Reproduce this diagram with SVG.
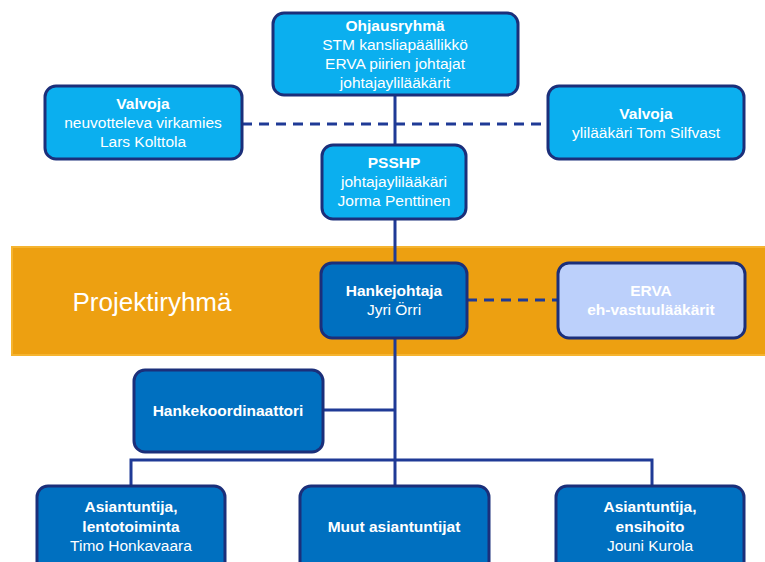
<svg xmlns="http://www.w3.org/2000/svg" width="765" height="562" viewBox="0 0 765 562">
<style>
text{font-family:"Liberation Sans",Arial,sans-serif;font-size:15.5px;fill:#fff;text-anchor:middle}
.b{font-weight:bold}
.lb{fill:#0BAFEF;stroke:#1B2F7A;stroke-width:3}
.db{fill:#0070C0;stroke:#1B2F7A;stroke-width:3}
.pb{fill:#BCD0FB;stroke:#1B2F7A;stroke-width:3}
.ln{stroke:#1F3A96;stroke-width:3;fill:none}
.ds{stroke:#1F3A96;stroke-width:3;fill:none;stroke-dasharray:10 7}
</style>
<rect width="765" height="562" fill="#fff"/>
<rect x="12" y="247" width="760" height="108" fill="#EDA011" stroke="#F5B430" stroke-width="2"/>
<text x="152" y="311" style="font-size:26px">Projektiryhmä</text>
<g id="connectors">
<line class="ds" x1="242" y1="124" x2="547" y2="124"/>
<line class="ds" x1="467" y1="300" x2="558" y2="300"/>
<line class="ln" x1="395" y1="95" x2="395" y2="460"/>
<line class="ln" x1="323" y1="410" x2="395" y2="410"/>
<polyline class="ln" points="131,486 131,460 652,460 652,486"/>
<line class="ln" x1="395" y1="460" x2="395" y2="486"/>
</g>
<g id="ohjausryhma">
<rect class="lb" x="273" y="13" width="245" height="82" rx="11"/>
<text class="b" x="395" y="31">Ohjausryhmä</text>
<text x="395" y="50">STM kansliapäällikkö</text>
<text x="395" y="69">ERVA piirien johtajat</text>
<text x="395" y="88">johtajaylilääkärit</text>
</g>
<g id="valvoja1">
<rect class="lb" x="45" y="86" width="197" height="73" rx="11"/>
<text class="b" x="143" y="109">Valvoja</text>
<text x="143" y="128">neuvotteleva  virkamies</text>
<text x="143" y="147">Lars Kolttola</text>
</g>
<g id="valvoja2">
<rect class="lb" x="548" y="86" width="196" height="73" rx="11"/>
<text class="b" x="646" y="119">Valvoja</text>
<text x="646" y="138">ylilääkäri  Tom Silfvast</text>
</g>
<g id="psshp">
<rect class="lb" x="322" y="145" width="144" height="74" rx="11"/>
<text class="b" x="394" y="168">PSSHP</text>
<text x="394" y="187">johtajaylilääkäri</text>
<text x="394" y="206">Jorma Penttinen</text>
</g>
<g id="hankejohtaja">
<rect class="db" x="321" y="263" width="146" height="75" rx="11"/>
<text class="b" x="394" y="296">Hankejohtaja</text>
<text x="394" y="315">Jyri Örri</text>
</g>
<g id="erva">
<rect class="pb" x="558" y="263" width="187" height="75" rx="11"/>
<text class="b" x="651" y="296">ERVA</text>
<text class="b" x="651" y="315">eh-vastuulääkärit</text>
</g>
<g id="hankekoordinaattori">
<rect class="db" x="134" y="370" width="189" height="82" rx="11"/>
<text class="b" x="228" y="416">Hankekoordinaattori</text>
</g>
<g id="lentotoiminta">
<rect class="db" x="37" y="486" width="188" height="90" rx="11"/>
<text class="b" x="131" y="512">Asiantuntija,</text>
<text class="b" x="131" y="532">lentotoiminta</text>
<text x="131" y="551">Timo Honkavaara</text>
</g>
<g id="muut">
<rect class="db" x="300" y="486" width="189" height="90" rx="11"/>
<text class="b" x="394" y="532">Muut asiantuntijat</text>
</g>
<g id="ensihoito">
<rect class="db" x="556" y="486" width="188" height="90" rx="11"/>
<text class="b" x="650" y="512">Asiantuntija,</text>
<text class="b" x="650" y="532">ensihoito</text>
<text x="650" y="551">Jouni Kurola</text>
</g>
</svg>
